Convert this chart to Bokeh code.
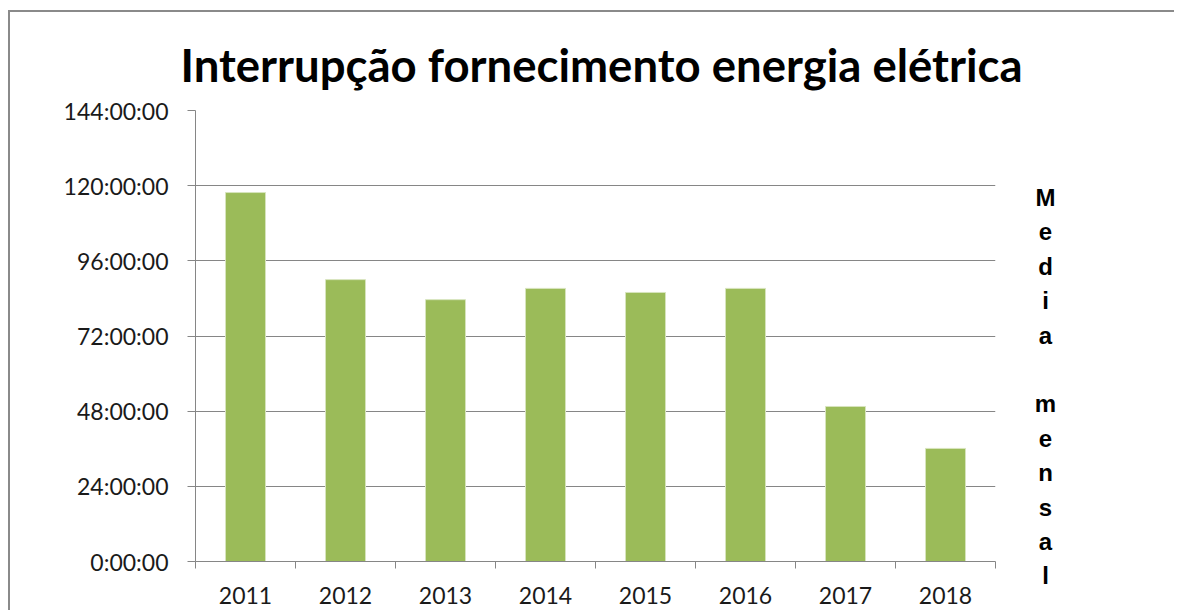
from bokeh.plotting import figure
from bokeh.models import Range1d, FixedTicker
from bokeh.layouts import row
from bokeh.core.properties import value
from bokeh.embed import file_html
from bokeh.resources import INLINE

# Data (monthly mean interruption, in hours, per year)
years = ["2011", "2012", "2013", "2014", "2015", "2016", "2017", "2018"]
hours = [117.8, 90.0, 83.6, 87.2, 85.9, 87.2, 49.5, 36.1]
y_ticks = [0, 24, 48, 72, 96, 120, 144]
y_tick_labels = ["0:00:00", "24:00:00", "48:00:00", "72:00:00", "96:00:00", "120:00:00", "144:00:00"]
title_text = "Interrupção fornecimento energia elétrica"
side_text = "Media mensal"

n = len(years)
x_centers = [i + 0.5 for i in range(n)]
x_bounds = list(range(n + 1))

p = figure(width=1020, height=600, output_backend="svg", toolbar_location=None,
           x_range=Range1d(0, n), y_range=Range1d(0, 144),
           min_border_left=185, min_border_right=35,
           min_border_top=98, min_border_bottom=51,
           styles={"margin-left": "8px", "margin-top": "10px",
                   "border-left": "2px solid #8a8a8a", "border-top": "2px solid #8a8a8a"})
p.frame_align = False

p.outline_line_color = None
p.xgrid.grid_line_color = None
p.ygrid.grid_line_color = "#868686"
p.ygrid.grid_line_width = 1

p.vbar(x=x_centers, top=hours, width=0.4, fill_color="#9BBB59",
       line_color="#d7e4bd", line_width=1)

p.title.text = title_text
p.title.text_font = "Lato"
p.title.text_font_style = "bold"
p.title.text_font_size = "45.5px"
p.title.text_color = "#000000"
p.title.align = "left"
p.title.offset = -15
p.title.standoff = 38

p.yaxis.ticker = FixedTicker(ticks=y_ticks)
p.yaxis.major_label_overrides = {t: l for t, l in zip(y_ticks, y_tick_labels)}
p.yaxis.major_tick_out = 8
p.yaxis.major_tick_in = 0
p.yaxis.minor_tick_out = 0
p.yaxis.minor_tick_in = 0
p.yaxis.axis_line_color = "#868686"
p.yaxis.major_tick_line_color = "#868686"
p.yaxis.major_label_text_font = "Lato"
p.yaxis.major_label_text_font_size = "23px"
p.yaxis.major_label_text_color = "#1a1a1a"
p.yaxis.major_label_standoff = 19

p.xaxis.ticker = FixedTicker(ticks=x_centers, minor_ticks=x_bounds)
p.xaxis.major_label_overrides = {c: y for c, y in zip(x_centers, years)}
p.xaxis.major_tick_out = 0
p.xaxis.major_tick_in = 0
p.xaxis.minor_tick_out = 7
p.xaxis.minor_tick_in = 0
p.xaxis.minor_tick_line_color = "#868686"
p.xaxis.axis_line_color = "#868686"
p.xaxis.major_label_text_font = "Lato"
p.xaxis.major_label_text_font_size = "23px"
p.xaxis.major_label_text_color = "#1a1a1a"
p.xaxis.major_label_standoff = 18

# side panel with vertically stacked letters, sharing the hour scale
px_per_hour = 451 / 144.0
side_h = 600 - 98
p2 = figure(width=146, height=600, output_backend="svg", toolbar_location=None,
            x_range=Range1d(0, 146), y_range=Range1d(144 - side_h / px_per_hour, 144),
            min_border_left=0, min_border_right=0, min_border_top=98, min_border_bottom=0,
            styles={"margin-top": "10px", "border-top": "2px solid #8a8a8a"})
p2.frame_align = False
p2.axis.visible = False
p2.grid.visible = False
p2.outline_line_color = None

letter_top = 116.2
letter_step = 10.98
lx, ly, lt = [], [], []
for k, ch in enumerate(side_text):
    if ch == " ":
        continue
    lx.append(17)
    ly.append(letter_top - k * letter_step)
    lt.append(ch)
p2.text(x=lx, y=ly, text=lt, text_align="center", text_baseline="middle",
        text_font=value("Liberation Sans"), text_font_style="bold",
        text_font_size="24px", text_color="#000000")

layout = row(p, p2)
open("out.html", "w").write(file_html(layout, INLINE))
